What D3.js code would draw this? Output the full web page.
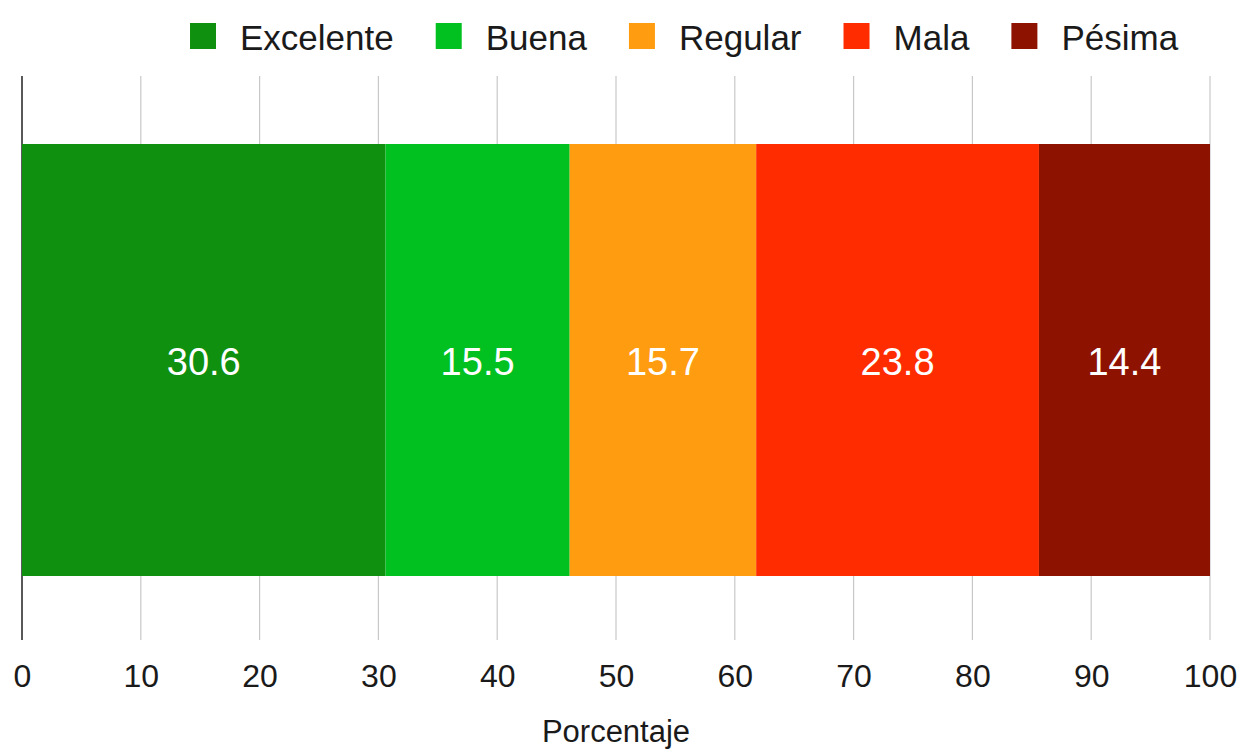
<!DOCTYPE html>
<html><head><meta charset="utf-8">
<script src="https://cdn.jsdelivr.net/npm/d3@7"></script>
<style>html,body{margin:0;padding:0;background:#fff;}svg{display:block;font-family:"Liberation Sans",Arial,sans-serif;}</style>
</head><body>
<svg id="c" width="1242" height="751"></svg>
<script>
const categories = ["Excelente","Buena","Regular","Mala","Pésima"];
const values = [30.6, 15.5, 15.7, 23.8, 14.4];
const colors = ["#0f900f","#00c11f","#ff9c0f","#ff2c00","#8e1200"];
const ticks = [0,10,20,30,40,50,60,70,80,90,100];
const axisTitle = "Porcentaje";

const svg = d3.select("#c");
const x = d3.scaleLinear().domain([0,100]).range([22,1210]);
const gridTop = 76, gridBottom = 640, barTop = 144, barBottom = 576;

// grid
svg.append("g").selectAll("line").data(ticks).join("line")
  .attr("x1", d=>x(d)).attr("x2", d=>x(d))
  .attr("y1", gridTop).attr("y2", gridBottom)
  .attr("stroke", d=> d===0 ? "#222" : "#c8c8c8")
  .attr("stroke-width", d=> d===0 ? 1.5 : 1.2);

// stacked bars
let acc = 0;
const segs = values.map((v,i)=>{ const s={start:acc,end:acc+v,v,i}; acc+=v; return s; });
svg.append("g").selectAll("rect").data(segs).join("rect")
  .attr("x", d=>x(d.start)).attr("width", d=>x(d.end)-x(d.start))
  .attr("y", barTop).attr("height", barBottom-barTop)
  .attr("fill", d=>colors[d.i]);
svg.append("g").selectAll("text").data(segs).join("text")
  .attr("x", d=>(x(d.start)+x(d.end))/2).attr("y", 362)
  .attr("text-anchor","middle").attr("dominant-baseline","central")
  .attr("fill","#fff").attr("font-size",38)
  .text(d=>d.v.toFixed(1));

// axis labels
const axis = d3.axisBottom(x).tickValues(ticks).tickSize(0).tickPadding(0);
const ag = svg.append("g").attr("transform","translate(0,664)").call(axis);
ag.select(".domain").remove();
ag.selectAll("text").attr("font-size",32).attr("fill","#1a1a1a")
  .attr("font-family","'Liberation Sans',Arial,sans-serif").attr("dy","0.71em");

svg.append("text").attr("x", x(50)).attr("y", 731)
  .attr("text-anchor","middle").attr("dominant-baseline","central")
  .attr("font-size",31).attr("fill","#1a1a1a").text(axisTitle);

// legend
const lg = svg.append("g");
let lx = 190;
categories.forEach((c,i)=>{
  lg.append("rect").attr("x",lx).attr("y",23).attr("width",26).attr("height",26).attr("fill",colors[i]);
  const t = lg.append("text").attr("x",lx+50).attr("y",37).attr("dominant-baseline","central")
    .attr("font-size",35).attr("fill","#1a1a1a").text(c);
  lx = lx + 50 + t.node().getComputedTextLength() + 42;
});
</script>
</body></html>
